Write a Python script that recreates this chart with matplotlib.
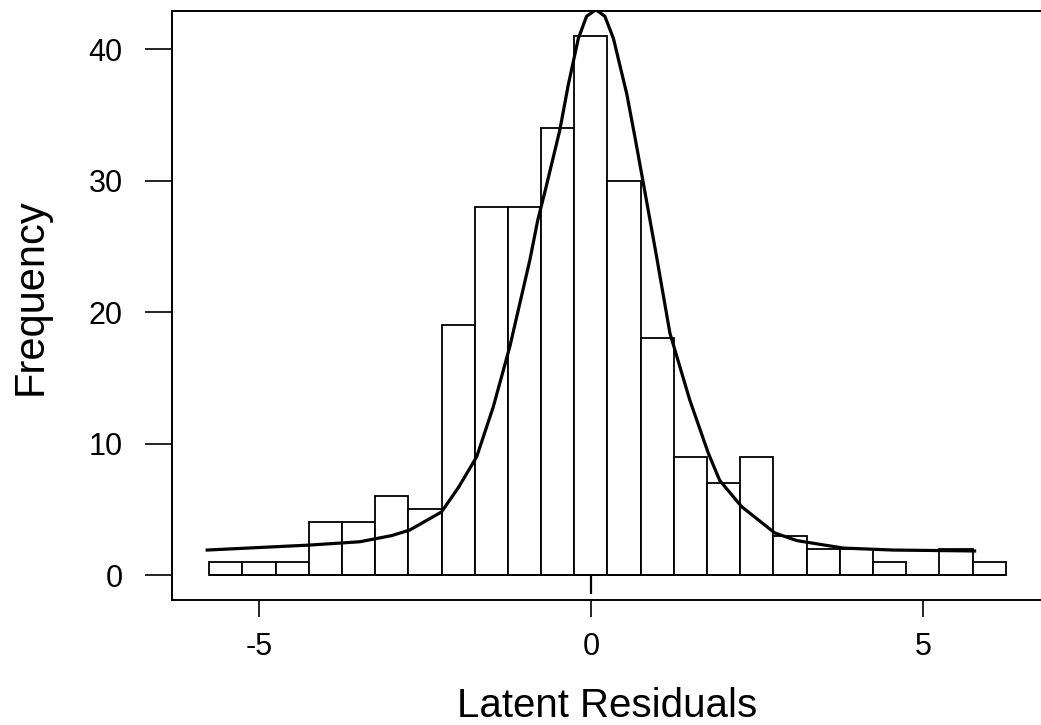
import matplotlib.pyplot as plt

plt.rcParams["font.family"] = ["Liberation Sans", "DejaVu Sans"]

# ── Histogram bins (width 0.5) ────────────────────────────────────────────
bin_left = [-5.75, -5.25, -4.75, -4.25, -3.75, -3.25, -2.75, -2.25,
            -1.75, -1.25, -0.75, -0.25, 0.25, 0.75, 1.25, 1.75,
            2.25, 2.75, 3.25, 3.75, 4.25, 4.75, 5.25, 5.75]
counts = [1, 1, 1, 4, 4, 6, 5, 19,
          28, 28, 34, 41, 30, 18, 9, 7,
          9, 3, 2, 2, 1, 0, 2, 1]
bin_width = 0.5

# ── Fitted density curve ──────────────────────────────────────────────────
curve_x = [-5.78, -4.23, -3.48, -3.0, -2.73, -2.25, -1.99, -1.72, -1.47,
           -1.22, -0.92, -0.80, -0.69, -0.47, -0.34, -0.19, -0.065, 0.075,
           0.21, 0.34, 0.54, 0.66, 0.79, 0.89, 0.99, 1.19, 1.49, 1.77, 1.94,
           2.27, 2.77, 3.10, 3.80, 4.55, 5.78]
curve_y = [1.90, 2.28, 2.53, 3.0, 3.42, 4.8, 6.7, 9.0, 12.8,
           17.4, 23.95, 27.0, 29.2, 33.8, 37.3, 40.8, 42.5, 43.0,
           42.5, 40.8, 36.6, 33.4, 29.8, 27.0, 24.2, 18.4, 13.3, 9.25, 7.2,
           5.2, 3.2, 2.62, 2.05, 1.9, 1.83]

x_ticks = [-5, 0, 5]
y_ticks = [0, 10, 20, 30, 40]

fig = plt.figure(figsize=(10.41, 7.25), dpi=100)
ax = fig.add_axes([172 / 1041, 1 - 600 / 725, (1041 - 172) / 1041, (600 - 11) / 725])

ax.bar(bin_left, counts, width=bin_width, align="edge",
       facecolor="white", edgecolor="black", linewidth=1.3)
ax.hlines(0, bin_left[0], bin_left[-1] + bin_width, color="black", linewidth=1.3)
ax.vlines(0, -1.45, -0.1, color="black", linewidth=1.6)
ax.plot(curve_x, curve_y, color="black", linewidth=2.3, solid_joinstyle="round")

ax.set_xlim(-6.31, 6.78)
ax.set_ylim(-1.9, 42.9)
ax.set_xticks(x_ticks)
ax.set_yticks(y_ticks)
ax.set_xticklabels([str(t) for t in x_ticks])
ax.set_yticklabels([str(t) for t in y_ticks])

ax.tick_params(axis="y", direction="out", length=19.5, width=1.2, pad=16, labelsize=22)
ax.tick_params(axis="x", direction="out", length=12, width=1.2, pad=11, labelsize=22)

ax.spines["right"].set_visible(False)
for s in ["left", "bottom", "top"]:
    ax.spines[s].set_linewidth(1.4)

fig.text(607 / 1041, 1 - 717 / 725, "Latent Residuals", fontsize=29,
         ha="center", va="baseline")
fig.text(42 / 1041, 1 - 297 / 725, "Frequency", fontsize=30, rotation=90,
         rotation_mode="anchor", ha="center", va="baseline")

fig.savefig("out.png", dpi=100, facecolor="white")
